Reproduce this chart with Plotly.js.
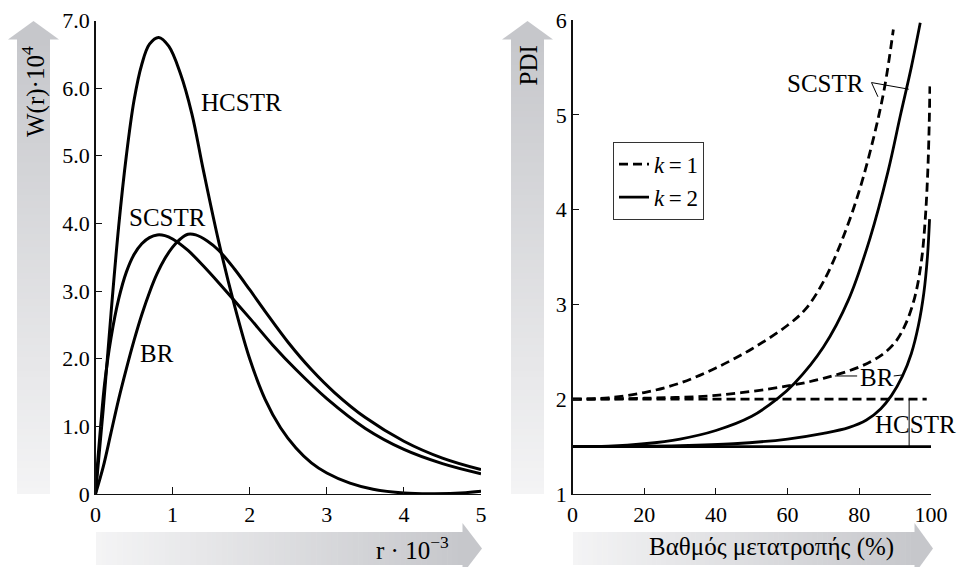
<!DOCTYPE html>
<html><head><meta charset="utf-8">
<script src="https://cdn.plot.ly/plotly-3.0.1.min.js"></script>
<style>html,body{margin:0;padding:0;background:#fff}#chart{width:959px;height:567px}</style>
</head><body><div id="chart"></div>
<script>
// ---------- Left panel: W(r)·10^4 vs r·10^-3 ----------
const rHCSTR = [0, 0.1, 0.2, 0.3, 0.4, 0.5, 0.6, 0.7, 0.82, 0.95, 1.1, 1.25, 1.4, 1.6, 1.8, 2.0, 2.2, 2.4, 2.6, 2.8, 3.0, 3.3, 3.6, 4.0, 4.4, 4.8, 5.0];
const wHCSTR = [0, 1.25, 2.65, 3.95, 5.0, 5.82, 6.35, 6.65, 6.75, 6.62, 6.22, 5.62, 4.78, 3.72, 2.8, 2.0, 1.4, 0.98, 0.68, 0.46, 0.31, 0.16, 0.07, 0.015, 0.005, 0.02, 0.04];
const rSCSTR = [0, 0.03, 0.07, 0.12, 0.2, 0.3, 0.4, 0.5, 0.6, 0.7, 0.8, 0.9, 1.0, 1.2, 1.4, 1.6, 1.8, 2.0, 2.3, 2.6, 3.0, 3.5, 4.0, 4.5, 5.0];
const wSCSTR = [0, 0.5, 1.05, 1.65, 2.3, 2.88, 3.28, 3.54, 3.7, 3.79, 3.83, 3.82, 3.77, 3.6, 3.37, 3.12, 2.86, 2.6, 2.2, 1.84, 1.41, 0.97, 0.66, 0.45, 0.30];
const rBR = [0, 0.1, 0.2, 0.3, 0.4, 0.5, 0.6, 0.7, 0.8, 0.9, 1.0, 1.1, 1.2, 1.3, 1.45, 1.6, 1.8, 2.0, 2.2, 2.5, 2.8, 3.1, 3.5, 4.0, 4.5, 5.0];
const wBR = [0, 0.4, 0.9, 1.4, 1.85, 2.27, 2.65, 2.98, 3.26, 3.48, 3.65, 3.77, 3.84, 3.83, 3.74, 3.6, 3.33, 3.02, 2.7, 2.24, 1.84, 1.5, 1.13, 0.78, 0.53, 0.36];

const xTicksL = [0, 1, 2, 3, 4, 5];
const xTickTextL = ['0', '1', '2', '3', '4', '5'];
const yTicksL = [0, 1, 2, 3, 4, 5, 6, 7];
const yTickTextL = ['0', '1.0', '2.0', '3.0', '4.0', '5.0', '6.0', '7.0'];

// ---------- Right panel: PDI vs conversion (%) ----------
const xSCSTR1 = [0, 10, 20, 30, 40, 50, 60, 65, 70, 75, 80, 84, 87, 89.5];
const pSCSTR1 = [2.0, 2.015, 2.07, 2.17, 2.33, 2.53, 2.78, 2.95, 3.24, 3.66, 4.2, 4.76, 5.28, 5.9];
const xSCSTR2 = [0, 10, 20, 30, 40, 50, 57, 62, 70, 77, 83, 88, 91.5, 94.5, 97];
const pSCSTR2 = [1.5, 1.505, 1.53, 1.58, 1.67, 1.82, 2.0, 2.17, 2.55, 3.05, 3.7, 4.4, 5.0, 5.5, 5.97];
const xBR1 = [0, 20, 40, 60, 70, 80, 86, 90, 93, 95.5, 97.3, 98.4, 99.1, 99.5, 99.7];
const pBR1 = [2.0, 2.01, 2.04, 2.14, 2.22, 2.34, 2.46, 2.6, 2.8, 3.08, 3.45, 3.9, 4.4, 4.9, 5.3];
const xBR2 = [0, 30, 45, 60, 70, 77, 82, 86, 89, 92, 94.5, 96.5, 98, 99, 99.6];
const pBR2 = [1.5, 1.51, 1.53, 1.58, 1.64, 1.7, 1.78, 1.9, 2.04, 2.24, 2.48, 2.78, 3.12, 3.5, 3.9];
const xHCSTR1 = [0, 98.8];
const pHCSTR1 = [2.0, 2.0];
const xHCSTR2 = [0, 100];
const pHCSTR2 = [1.5, 1.5];

const xTicksR = [0, 20, 40, 60, 80, 100];
const yTicksR = [1, 2, 3, 4, 5, 6];
const legendNames = ['<i>k</i>\u2009=\u20091', '<i>k</i>\u2009=\u20092'];

// ---------- helpers ----------
const W = 959, H = 567;
const px = v => v / W;
const py = v => (H - v) / H;
const FONT = 'Liberation Serif, Times New Roman, serif';
const DASH = '9px,5px';
const SPL = {shape: 'spline', smoothing: 1};

const line = (x, y, xa, ya, ln, extra) => Object.assign({
  x: x, y: y, xaxis: xa, yaxis: ya, mode: 'lines', type: 'scatter',
  line: Object.assign({color: '#000', width: 3}, ln || {}),
  hoverinfo: 'skip', showlegend: false
}, extra || {});

const traces = [
  line(rHCSTR, wHCSTR, 'x', 'y', SPL),
  line(rSCSTR, wSCSTR, 'x', 'y', SPL),
  line(rBR, wBR, 'x', 'y', SPL),
  line(xSCSTR1, pSCSTR1, 'x2', 'y2', Object.assign({width: 2.8, dash: DASH}, SPL), {showlegend: true, name: legendNames[0]}),
  line(xSCSTR2, pSCSTR2, 'x2', 'y2', Object.assign({width: 2.8}, SPL), {showlegend: true, name: legendNames[1]}),
  line(xBR1, pBR1, 'x2', 'y2', Object.assign({width: 2.8, dash: DASH}, SPL)),
  line(xBR2, pBR2, 'x2', 'y2', Object.assign({width: 2.8}, SPL)),
  line(xHCSTR1, pHCSTR1, 'x2', 'y2', {width: 2.8, dash: DASH}),
  line(xHCSTR2, pHCSTR2, 'x2', 'y2', {width: 2.8})
];

// ---------- gradient arrows built from thin bands ----------
const shapes = [];
function lerpColor(a, b, t) {
  const c = [0, 1, 2].map(i => Math.round(a[i] + (b[i] - a[i]) * t));
  return 'rgb(' + c.join(',') + ')';
}
const DARK = [198, 199, 203], LIGHT = [244, 244, 245];
function vArrow(x0, x1, hx0, hx1, tipY, baseY, bottomY) {
  const n = 70;
  for (let i = 0; i < n; i++) {
    const ya = baseY + (bottomY - baseY) * i / n;
    const yb = baseY + (bottomY - baseY) * (i + 1) / n + 0.6;
    shapes.push({type: 'rect', xref: 'paper', yref: 'paper', layer: 'below',
      x0: px(x0), x1: px(x1), y0: py(ya), y1: py(Math.min(yb, bottomY)),
      line: {width: 0}, fillcolor: lerpColor(DARK, LIGHT, (i + 0.5) / n)});
  }
  const cx = (hx0 + hx1) / 2;
  shapes.push({type: 'path', xref: 'paper', yref: 'paper', layer: 'below',
    path: `M ${px(hx0)} ${py(baseY + 0.5)} L ${px(cx)} ${py(tipY)} L ${px(hx1)} ${py(baseY + 0.5)} Z`,
    line: {width: 0}, fillcolor: lerpColor(DARK, LIGHT, 0)});
}
function hArrow(x0, baseX, tipX, y0, y1, hy0, hy1) {
  const n = 70;
  for (let i = 0; i < n; i++) {
    const xa = x0 + (baseX - x0) * i / n;
    const xb = x0 + (baseX - x0) * (i + 1) / n + 0.6;
    shapes.push({type: 'rect', xref: 'paper', yref: 'paper', layer: 'below',
      x0: px(xa), x1: px(Math.min(xb, baseX)), y0: py(y0), y1: py(y1),
      line: {width: 0}, fillcolor: lerpColor(LIGHT, DARK, (i + 0.5) / n)});
  }
  const cy = (hy0 + hy1) / 2;
  shapes.push({type: 'path', xref: 'paper', yref: 'paper', layer: 'below',
    path: `M ${px(baseX - 0.5)} ${py(hy0)} L ${px(tipX)} ${py(cy)} L ${px(baseX - 0.5)} ${py(hy1)} Z`,
    line: {width: 0}, fillcolor: lerpColor(LIGHT, DARK, 1)});
}
vArrow(17, 50, 8, 59, 21, 39, 494);
vArrow(511, 544, 502, 553, 21, 39, 494);
hArrow(96, 463, 482, 532, 565, 523, 574);
hArrow(573, 915, 933, 532, 565, 523, 574);

// leader lines on the right panel
const lead = (x0, y0, x1, y1) => ({type: 'line', xref: 'x2', yref: 'y2', x0, y0, x1, y1, line: {color: '#000', width: 1}});
shapes.push(lead(83.4, 5.34, 85.2, 5.19));
shapes.push(lead(83.4, 5.34, 93.8, 5.27));
shapes.push(lead(73.2, 2.245, 79.4, 2.245));
shapes.push(lead(89.6, 2.245, 91.9, 2.255));
shapes.push(lead(93.9, 2.0, 93.9, 1.5));

const txt = (text, x, y, xref, yref, size, extra) => Object.assign({
  text, x, y, xref, yref, showarrow: false, xanchor: 'center', yanchor: 'middle',
  font: {family: FONT, size: size, color: '#000'}
}, extra || {});

const annotations = [
  txt('HCSTR', 1.89, 5.79, 'x', 'y', 25),
  txt('SCSTR', 0.93, 4.09, 'x', 'y', 25),
  txt('BR', 0.80, 2.08, 'x', 'y', 25),
  txt('SCSTR', 70.7, 5.335, 'x2', 'y2', 25),
  txt('BR', 84.9, 2.234, 'x2', 'y2', 25),
  txt('HCSTR', 95.8, 1.728, 'x2', 'y2', 25),
  txt('W(r)·10<sup>4</sup>', px(33), py(92), 'paper', 'paper', 25, {textangle: -90}),
  txt('PDI', px(527.5), py(66), 'paper', 'paper', 25, {textangle: -90}),
  txt('r · 10<sup>−3</sup>', px(412), py(548), 'paper', 'paper', 25),
  txt('Βαθμός μετατροπής (%)', px(771), py(547), 'paper', 'paper', 25)
];

const axisCommon = {
  showline: true, linecolor: '#111', linewidth: 1.4, showgrid: false, zeroline: false,
  ticks: 'inside', ticklen: 6, tickwidth: 1, tickcolor: '#111',
  tickfont: {family: FONT, size: 22, color: '#000'}, fixedrange: true
};

const layout = {
  width: W, height: H, margin: {l: 0, r: 0, t: 0, b: 0},
  paper_bgcolor: '#fff', plot_bgcolor: 'rgba(0,0,0,0)',
  font: {family: FONT, color: '#000'},
  xaxis: Object.assign({}, axisCommon, {domain: [px(95.5), px(481)], range: [0, 5], anchor: 'y',
    tickvals: xTicksL, ticktext: xTickTextL, ticklen: 7}),
  yaxis: Object.assign({}, axisCommon, {domain: [py(494), py(20.5)], range: [0, 7], anchor: 'x',
    tickvals: yTicksL, ticktext: yTickTextL}),
  xaxis2: Object.assign({}, axisCommon, {domain: [px(572.5), px(931)], range: [0, 100], anchor: 'y2',
    tickvals: xTicksR}),
  yaxis2: Object.assign({}, axisCommon, {domain: [py(494), py(20)], range: [1, 6], anchor: 'x2',
    tickvals: yTicksR}),
  showlegend: true,
  legend: {x: px(613), y: py(141.7), xanchor: 'left', yanchor: 'top', bordercolor: '#333', borderwidth: 1,
    bgcolor: '#fff', font: {family: FONT, size: 23, color: '#000'}, traceorder: 'normal', itemwidth: 30},
  shapes, annotations
};

Plotly.newPlot('chart', traces, layout, {staticPlot: true, displayModeBar: false});
</script>
</body></html>
